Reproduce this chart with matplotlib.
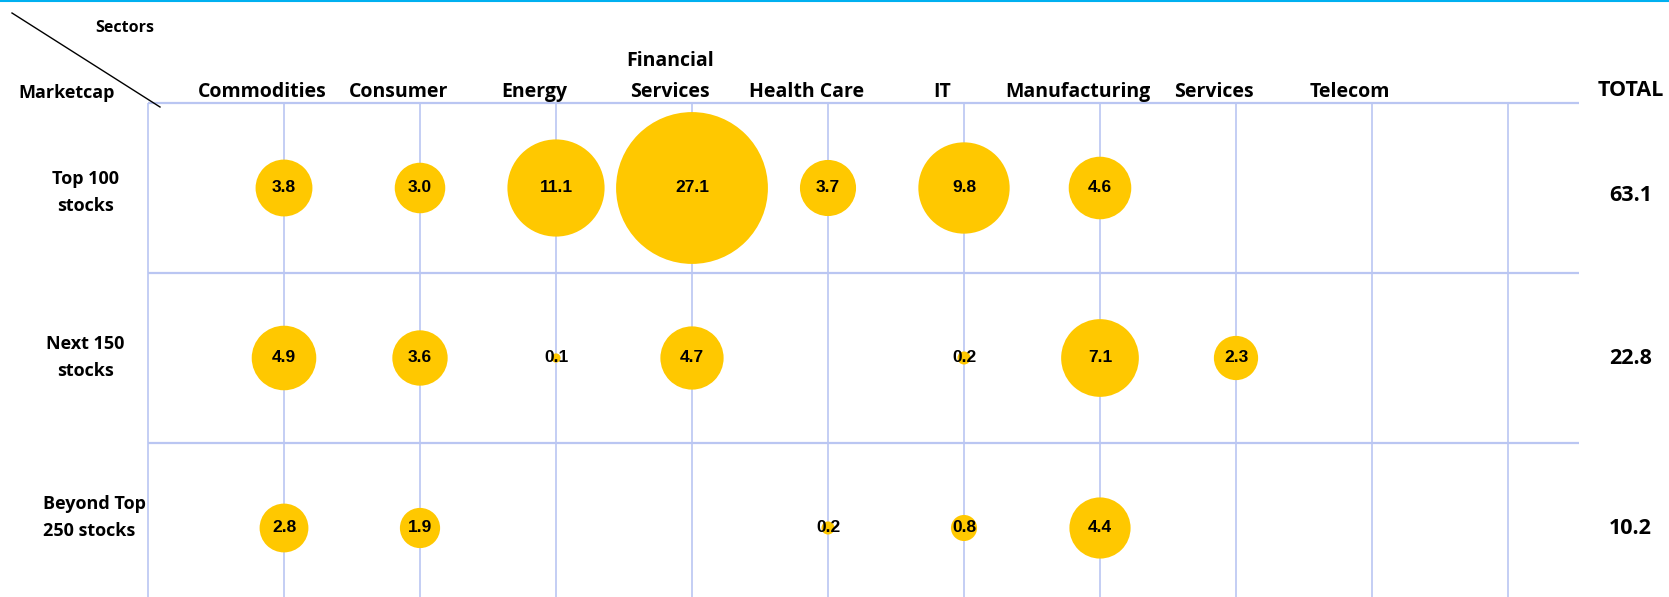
import matplotlib.pyplot as plt
import numpy as np

# sectors across the top, market-cap buckets down the side
sectors = ['Commodities', 'Consumer', 'Energy', 'Financial\nServices', 'Health Care',
           'IT', 'Manufacturing', 'Services', 'Telecom']
row_labels = ['Top 100\nstocks', 'Next 150\nstocks', 'Beyond Top\n250 stocks']

# % weights per cell (None = empty)
top100 = [3.8, 3.0, 11.1, 27.1, 3.7, 9.8, 4.6, None, None]
next150 = [4.9, 3.6, 0.1, 4.7, None, 0.2, 7.1, 2.3, None]
beyond250 = [2.8, 1.9, None, None, 0.2, 0.8, 4.4, None, None]
totals = [63.1, 22.8, 10.2]

GOLD = '#FFC800'
GRID = '#BAC6F2'
HEAD_FONT = ['Open Sans', 'DejaVu Sans']
NUM_FONT = ['Liberation Sans', 'DejaVu Sans']

W, H = 1669, 597
fig = plt.figure(figsize=(W / 100, H / 100), dpi=100)
ax = fig.add_axes([0, 0, 1, 1])
ax.axis('off')

# map pixel layout: column k at 284 + 136*k px, row r at 188 + 170*r px
ax.set_xlim((0 - 284) / 136, (W - 284) / 136)
ax.set_ylim((H - 188) / 170, (0 - 188) / 170)

n_cols = len(sectors)
n_rows = len(row_labels)
y_bottom = (H - 188) / 170

# grid
ax.vlines(np.arange(-1, n_cols + 1), -0.5, y_bottom, color=GRID, lw=1.2, zorder=1)
ax.hlines(np.arange(n_rows) - 0.5, -1, 9.52, color=GRID, lw=1.6, zorder=1)

# bubbles
for r, row in enumerate([top100, next150, beyond250]):
    xs = [c for c, v in enumerate(row) if v is not None]
    vals = [v for v in row if v is not None]
    ax.scatter(xs, [r] * len(xs), s=[441 * v for v in vals], color=GOLD,
               edgecolors='none', zorder=2)
    for x, v in zip(xs, vals):
        ax.text(x, r, f'{v:.1f}', ha='center', va='center', fontsize=12.5,
                fontweight='bold', family=NUM_FONT, zorder=3)

# column headers (sit a little left of their grid line)
for c, name in enumerate(sectors):
    ax.text(c - 0.16, -0.535, name, ha='center', va='baseline', fontsize=14,
            fontweight='bold', family=HEAD_FONT, linespacing=1.75)

# row headers
row_shift = [0.025, -0.005, -0.06]
for r, name in enumerate(row_labels):
    if r < 2:
        ax.text(-1.46, r + row_shift[r], name, ha='center', va='center', fontsize=13,
                fontweight='bold', family=HEAD_FONT, linespacing=1.65)
    else:
        ax.text(-1.775, r + row_shift[r], name, ha='left', va='center', fontsize=13,
                fontweight='bold', family=HEAD_FONT, linespacing=1.65)

# totals column
ax.text(9.9, -0.575, 'TOTAL', ha='center', va='center', fontsize=15.5,
        fontweight='bold', family=HEAD_FONT)
for r, t in enumerate(totals):
    ax.text(9.9, r + (0.045 if r == 0 else 0), f'{t:.1f}', ha='center', va='center',
            fontsize=15.5, fontweight='bold', family=HEAD_FONT)

# corner labels and diagonal
ax.text(-1.17, -0.94, 'Sectors', ha='center', va='center', fontsize=11.5,
        fontweight='bold', family=HEAD_FONT)
ax.text(-1.6, -0.56, 'Marketcap', ha='center', va='center', fontsize=13,
        fontweight='bold', family=HEAD_FONT)
ax.plot([(12 - 284) / 136, (160 - 284) / 136], [(13 - 188) / 170, (107 - 188) / 170],
        color='black', lw=1.0)

# thin cyan strip at the very top
fig.add_artist(plt.Line2D([0, 1], [0.998, 0.998], transform=fig.transFigure,
                          color='#00B0F0', lw=1.5))

fig.savefig('out.png', dpi=100)
